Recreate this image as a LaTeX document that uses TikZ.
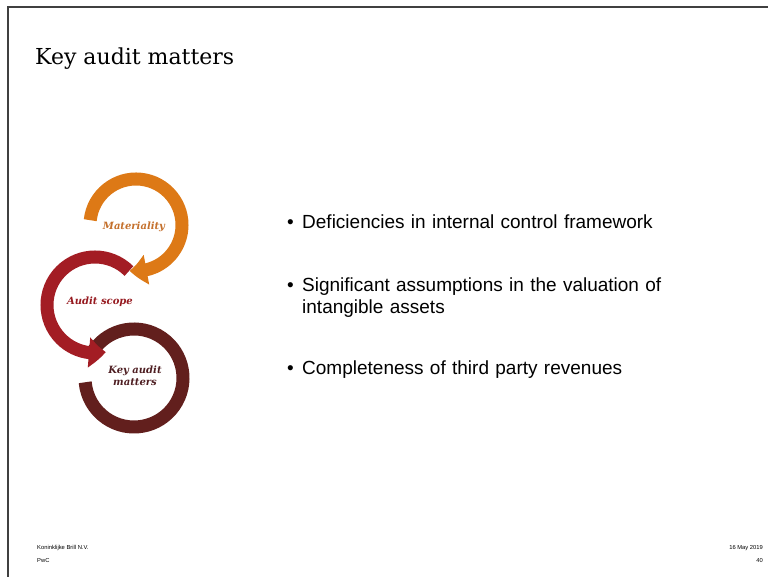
\documentclass[tikz,border=0pt]{standalone}
\usepackage{fontspec}
\setmainfont{DejaVu Serif}
\newfontfamily\slidesans{Liberation Sans}
\usetikzlibrary{arrows.meta, bending}
\definecolor{matorange}{RGB}{221,121,22}
\definecolor{scopered}{RGB}{163,29,36}
\definecolor{kambrown}{RGB}{98,31,29}
\definecolor{mattext}{RGB}{196,112,44}
\definecolor{scopetext}{RGB}{150,26,32}
\definecolor{kamtext}{RGB}{78,30,34}
\tikzstyle{frameline} = [line width=1.5pt, draw=black!75]
\tikzstyle{ring} = [line width=13pt]
\tikzstyle{ringarrow} = [ring, -{Triangle[bend, width=29pt, length=17pt]}]
\tikzstyle{ringlabel} = [font=\fontsize{10}{12}\selectfont\bfseries\itshape,
align=center, inner sep=0pt]
\tikzstyle{point} = [anchor=base west, inner sep=0pt, text width=370pt,
align=left, font=\slidesans\fontsize{19}{22}\selectfont]
\tikzstyle{dot} = [anchor=base west, inner sep=0pt,
font=\slidesans\fontsize{19}{22}\selectfont]
\tikzstyle{footer} = [inner sep=0pt, font=\slidesans\fontsize{5.8}{7}\selectfont]

\begin{document}
\begin{tikzpicture}[x=1pt, y=1pt]
\useasboundingbox (0,0) rectangle (768,577);

\draw[frameline] (768,570) -- (8,570) -- (8,0);

\node(title)[anchor=base west, inner sep=0pt, font=\fontsize{22}{26}\selectfont]
at (35,512) {Key audit matters};

% cycle of rings
\draw[ring, kambrown] (134,199) ++(145:49) arc (145:-175:49);
\draw[ringarrow, scopered] (95,272) ++(45:48) arc (45:283:48);
\draw[ringarrow, matorange] (136,352) ++(174:46) arc (174:-98:46);

\node(mat)[ringlabel, text=mattext] at (134,350) {Materiality};
\node(scope)[ringlabel, text=scopetext] at (100,275) {Audit scope};
\node(kam)[ringlabel, text=kamtext] at (135,201) {Key audit\\matters};

% bullet points
\node(deficiencyDot)[dot] at (287,348) {•};
\node(deficiency)[point] at (302,348) {Deficiencies in internal control framework};
\node(assumptionDot)[dot] at (287,285) {•};
\node(assumption)[point] at (302,285)
{Significant assumptions in the valuation of\\intangible assets};
\node(revenueDot)[dot] at (287,202) {•};
\node(revenue)[point] at (302,202) {Completeness of third party revenues};

% footer
\node(client)[footer, anchor=base west] at (37,27) {Koninklijke Brill N.V.};
\node(firm)[footer, anchor=base west] at (37,14) {PwC};
\node(date)[footer, anchor=base east] at (763,27) {16 May 2019};
\node(page)[footer, anchor=base east] at (763,14) {40};

\end{tikzpicture}
\end{document}
